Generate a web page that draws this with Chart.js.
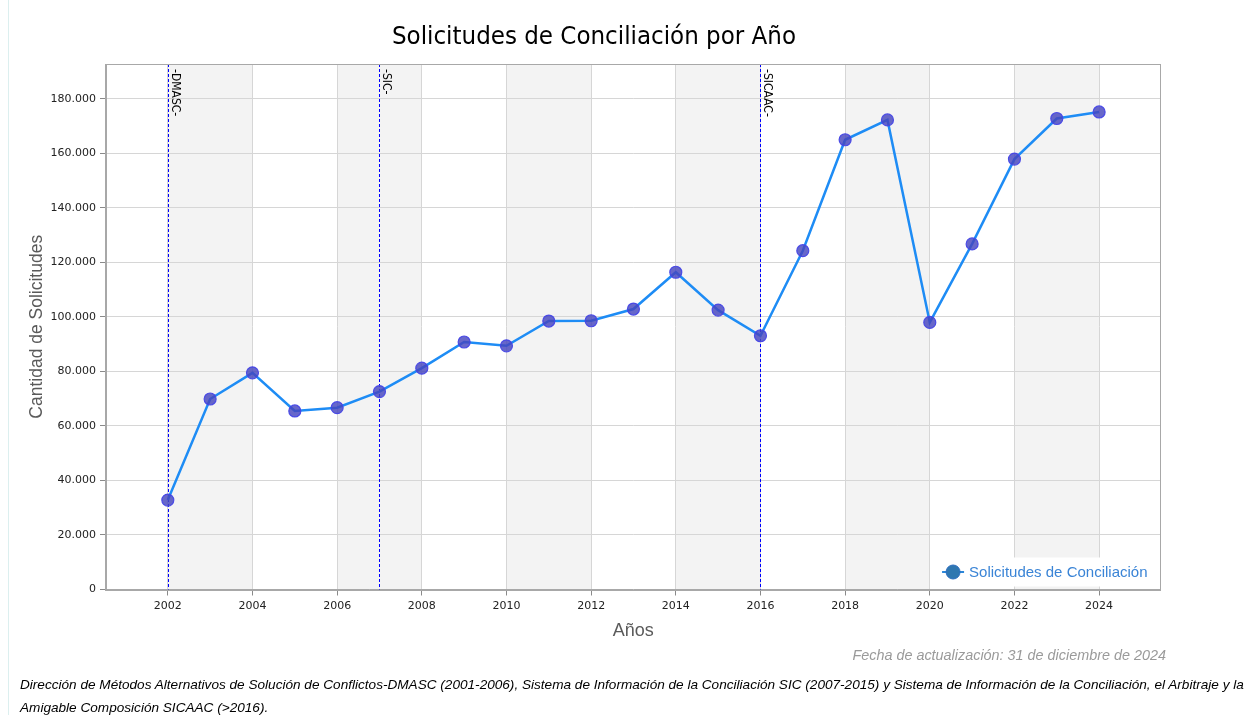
<!DOCTYPE html>
<html>
<head>
<meta charset="utf-8">
<script src="https://cdn.jsdelivr.net/npm/chart.js@4.4.1/dist/chart.umd.min.js"></script>
<style>
  html, body { margin: 0; padding: 0; background: #fff; }
  body { width: 1250px; height: 715px; position: relative; overflow: hidden; }
  #leftRule { position: absolute; left: 8px; top: 0; width: 1px; height: 715px; background: #dcefef; }
  #title { position: absolute; left: 194px; width: 800px; top: 20px; text-align: center;
           font-family: "DejaVu Sans Condensed", "DejaVu Sans", sans-serif; font-size: 25.6px; line-height: 30px; color: #000; white-space: nowrap; }
  #chartWrap { position: absolute; left: 0; top: 0; width: 1250px; height: 715px; }
  #fecha { position: absolute; right: 84px; top: 647px; font-family: "Liberation Sans", Arial, sans-serif;
           font-style: italic; font-size: 14.4px; color: #9a9a9a; white-space: nowrap; }
  #fuente { position: absolute; left: 20px; top: 673px; font-family: "Liberation Sans", Arial, sans-serif;
            font-style: italic; font-size: 13.6px; line-height: 23px; color: #000; white-space: nowrap; }
</style>
</head>
<body>
<div id="leftRule"></div>
<div id="chartWrap"><canvas id="c" width="1250" height="715"></canvas></div>
<div id="title">Solicitudes de Conciliación por Año</div>
<div id="fecha">Fecha de actualización: 31 de diciembre de 2024</div>
<div id="fuente">Dirección de Métodos Alternativos de Solución de Conflictos-DMASC (2001-2006), Sistema de Información de la Conciliación SIC (2007-2015) y Sistema de Información de la Conciliación, el Arbitraje y la<br>Amigable Composición SICAAC (&gt;2016).</div>
<script>
// ---- data ----
const years = [2002, 2003, 2004, 2005, 2006, 2007, 2008, 2009, 2010, 2011, 2012, 2013,
               2014, 2015, 2016, 2017, 2018, 2019, 2020, 2021, 2022, 2023, 2024];
const solicitudes = [32800, 69900, 79500, 65500, 66700, 72600, 81200, 90800, 89400, 98500, 98600, 102900,
                     116400, 102500, 93100, 124300, 165000, 172300, 98000, 126800, 157900, 172800, 175200];
const seriesLabel = "Solicitudes de Conciliación";
const xTicks = [2002, 2004, 2006, 2008, 2010, 2012, 2014, 2016, 2018, 2020, 2022, 2024];
const yTicks = [0, 20000, 40000, 60000, 80000, 100000, 120000, 140000, 160000, 180000];
const shadedBands = [[2002, 2004], [2006, 2008], [2010, 2012], [2014, 2016], [2018, 2020], [2022, 2024]];
const eventYears = [2002, 2007, 2016];
const eventLabels = ["-DMASC-", "-SIC-", "-SICAAC-"];

const fmt = v => String(v).replace(/\B(?=(\d{3})+(?!\d))/g, ".");

const bandsPlugin = {
  id: "bands",
  beforeDraw(chart) {
    const {ctx, chartArea: a, scales: {x}} = chart;
    ctx.save();
    ctx.fillStyle = "#f3f3f3";
    shadedBands.forEach(([s, e]) => {
      const x0 = x.getPixelForValue(s), x1 = x.getPixelForValue(e);
      ctx.fillRect(x0, a.top, x1 - x0, a.bottom - a.top);
    });
    ctx.restore();
  }
};

const eventsPlugin = {
  id: "events",
  beforeDatasetsDraw(chart) {
    const {ctx, chartArea: a, scales: {x}} = chart;
    ctx.save();
    eventYears.forEach((yr, i) => {
      const px = Math.round(x.getPixelForValue(yr)) + 0.5;
      ctx.strokeStyle = "#0000ff";
      ctx.lineWidth = 1;
      ctx.setLineDash([3, 2]);
      ctx.beginPath();
      ctx.moveTo(px, a.top);
      ctx.lineTo(px, a.bottom);
      ctx.stroke();
      ctx.setLineDash([]);
      ctx.save();
      ctx.translate(px + 3.5, a.top + 5);
      ctx.rotate(Math.PI / 2);
      ctx.fillStyle = "#000";
      ctx.font = '12px "DejaVu Sans Condensed", "DejaVu Sans", sans-serif';
      ctx.textAlign = "left";
      ctx.textBaseline = "alphabetic";
      ctx.fillText(eventLabels[i], 0, 0);
      ctx.restore();
    });
    ctx.restore();
  }
};

const frameLegendPlugin = {
  id: "frameLegend",
  afterDraw(chart) {
    const {ctx, chartArea: a} = chart;
    ctx.save();
    ctx.strokeStyle = "#a8a8a8";
    ctx.lineWidth = 1;
    ctx.strokeRect(Math.round(a.left) - 0.5, Math.round(a.top) + 0.5, Math.round(a.right - a.left), Math.round(a.bottom - a.top));
    // legend box inside bottom-right of plot
    const label = chart.data.datasets[0].label;
    ctx.font = '15px "Liberation Sans", Arial, sans-serif';
    const tw = ctx.measureText(label).width;
    const boxR = a.right - 3, boxB = a.bottom - 3;
    const boxW = tw + 40, boxH = 29;
    const boxL = boxR - boxW, boxT = boxB - boxH;
    ctx.fillStyle = "#fff";
    ctx.fillRect(boxL, boxT, boxW, boxH);
    const cy = boxT + boxH / 2;
    ctx.strokeStyle = "#2b86d8";
    ctx.lineWidth = 2;
    ctx.beginPath();
    ctx.moveTo(boxL + 3, cy);
    ctx.lineTo(boxL + 25, cy);
    ctx.stroke();
    ctx.beginPath();
    ctx.arc(boxL + 14, cy, 7, 0, Math.PI * 2);
    ctx.fillStyle = "#2f77b0";
    ctx.fill();
    ctx.strokeStyle = "#2e6fc0";
    ctx.lineWidth = 1;
    ctx.stroke();
    ctx.fillStyle = "#3a84d6";
    ctx.textAlign = "left";
    ctx.textBaseline = "middle";
    ctx.fillText(label, boxL + 30, cy + 1);
    ctx.restore();
  }
};

new Chart(document.getElementById("c"), {
  type: "line",
  data: {
    datasets: [{
      label: seriesLabel,
      data: years.map((y, i) => ({x: y, y: solicitudes[i]})),
      borderColor: "#1e8cf5",
      borderWidth: 2.5,
      tension: 0,
      pointRadius: 6,
      pointBackgroundColor: "rgba(70, 70, 190, 0.82)",
      pointBorderColor: "rgba(70, 70, 230, 0.95)",
      pointBorderWidth: 1.2
    }]
  },
  options: {
    responsive: false,
    animation: false,
    devicePixelRatio: 1,
    layout: { padding: { left: 0, right: 89.5, top: 64, bottom: 65.5 } },
    plugins: {
      legend: { display: false },
      title: { display: false },
      tooltip: { enabled: false }
    },
    scales: {
      x: {
        type: "linear",
        min: 2000.54,
        max: 2025.45,
        afterBuildTicks: s => { s.ticks = xTicks.map(v => ({value: v})); },
        afterFit: s => { s.height = 60; },
        border: { display: true, color: "#a8a8a8", width: 1 },
        grid: { color: "#d6d6d6", lineWidth: 1, tickLength: 6, tickColor: "#8a8a8a" },
        ticks: {
          autoSkip: false, maxRotation: 0, padding: 4, color: "#222",
          font: { family: '"DejaVu Sans", sans-serif', size: 11 },
          callback: v => String(v)
        },
        title: {
          display: true, text: "Años", color: "#5a5a5a",
          font: { family: '"Liberation Sans", Arial, sans-serif', size: 18 },
          padding: { top: 0, bottom: 8 }
        }
      },
      y: {
        min: 0,
        max: 192800,
        afterBuildTicks: s => { s.ticks = yTicks.map(v => ({value: v})); },
        afterFit: s => { s.width = 106; },
        border: { display: true, color: "#a8a8a8", width: 1 },
        grid: { color: "#d6d6d6", lineWidth: 1, tickLength: 6, tickColor: "#8a8a8a" },
        ticks: {
          padding: 4, color: "#222",
          font: { family: '"DejaVu Sans", sans-serif', size: 11 },
          callback: v => fmt(v)
        },
        title: {
          display: true, text: "Cantidad de Solicitudes", color: "#5a5a5a",
          font: { family: '"Liberation Sans", Arial, sans-serif', size: 17.5 },
          padding: { top: 27, bottom: 0 }
        }
      }
    }
  },
  plugins: [bandsPlugin, eventsPlugin, frameLegendPlugin]
});
</script>
</body>
</html>
